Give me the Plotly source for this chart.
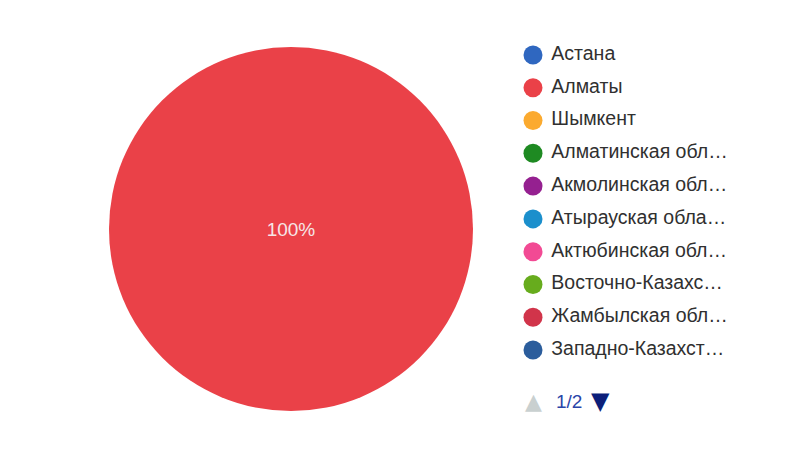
import plotly.graph_objects as go

regions = ["Астана", "Алматы", "Шымкент", "Алматинская обл…", "Акмолинская обл…",
           "Атырауская обла…", "Актюбинская обл…", "Восточно-Казахс…", "Жамбылская обл…",
           "Западно-Казахст…"]
values = [0, 100, 0, 0, 0, 0, 0, 0, 0, 0]
colors = ["#2f67c0", "#ea4148", "#fbaa2f", "#1e8a22", "#952090",
          "#1b8fcc", "#f24a94", "#67ac1d", "#d1344a", "#2b5d9c"]
page_label = "1/2"

FONT = "Liberation Sans, Arial"

fig = go.Figure()

fig.add_trace(go.Pie(
    labels=regions, values=values, marker=dict(colors=colors, line=dict(width=0)),
    sort=False, direction="clockwise", showlegend=False,
    textinfo="percent", texttemplate="%{percent:.0%}", textposition="inside",
    insidetextfont=dict(family=FONT, size=19, color="#f6e6e6"),
    domain=dict(x=[109/786, 473/786], y=[39/450, 403/450]),
    hoverinfo="label+percent",
))

fig.add_trace(go.Scatter(
    x=[0]*len(regions), y=regions, mode="markers+text",
    marker=dict(size=19, color=colors, line=dict(width=0)),
    text=["\u00a0" + r for r in regions], textposition="middle right",
    textfont=dict(family=FONT, size=19.5, color="#303030"),
    cliponaxis=False, showlegend=False, hoverinfo="skip",
))

fig.update_layout(
    width=786, height=450, margin=dict(l=0, r=0, t=0, b=0),
    paper_bgcolor="white", plot_bgcolor="white",
    xaxis=dict(domain=[533/786, 1], range=[0, 1], visible=False, fixedrange=True),
    yaxis=dict(domain=[1 - 366.4/450, 1 - 38.6/450], type="category",
               categoryorder="array", categoryarray=regions,
               range=[9.5, -0.5], visible=False, fixedrange=True),
    annotations=[
        dict(x=533/786, y=1 - 401/450, xref="paper", yref="paper", xanchor="center",
             yanchor="middle", showarrow=False, text="▲",
             font=dict(family="DejaVu Sans", size=22, color="#c9d0d0")),
        dict(x=554/786, y=1 - 401/450, xref="paper", yref="paper", xanchor="left",
             yanchor="middle", showarrow=False, text=page_label,
             font=dict(family=FONT, size=19, color="#2a45a8")),
        dict(x=600/786, y=1 - 401/450, xref="paper", yref="paper", xanchor="center",
             yanchor="middle", showarrow=False, text="▼",
             font=dict(family="DejaVu Sans", size=24, color="#0c1f7a")),
    ],
)

fig.write_html("out.html", config={"displayModeBar": False},
               post_script="document.body.style.margin='0';")
